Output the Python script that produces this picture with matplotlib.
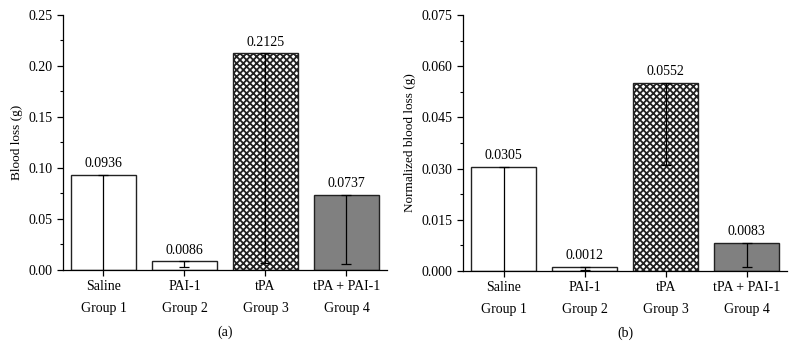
import matplotlib
matplotlib.use('Agg')
import matplotlib.pyplot as plt
from matplotlib.ticker import MultipleLocator, FormatStrFormatter

# data
groups = ["Saline\nGroup 1", "PAI-1\nGroup 2", "tPA\nGroup 3", "tPA + PAI-1\nGroup 4"]
blood_loss = [0.0936, 0.0086, 0.2125, 0.0737]
blood_loss_err = [0.10, 0.006, 0.2056, 0.068]
norm_loss = [0.0305, 0.0012, 0.0552, 0.0083]
norm_loss_err = [0.035, 0.0009, 0.0242, 0.0071]

plt.rcParams['font.family'] = ['Liberation Serif', 'DejaVu Serif']
plt.rcParams['hatch.linewidth'] = 1.3

fills = ['white', 'white', 'white', '#808080']
hatches = [None, '-', 'xxxxx', None]


def draw_panel(ax, values, errs, ymax, major, fmt, ylabel, tag):
    x = list(range(len(values)))
    bars = ax.bar(x, values, width=0.8, color=fills, edgecolor='#222222',
                  linewidth=1.0, zorder=2)
    for b, h in zip(bars, hatches):
        if h:
            b.set_hatch(h)
    # only the lower half of each error bar is visible
    ax.errorbar(x, values, yerr=[errs, [0] * len(errs)], fmt='none',
                ecolor='black', elinewidth=0.9, capsize=3.5, capthick=0.9,
                zorder=3)
    for xi, v in zip(x, values):
        ax.text(xi, v + ymax * 0.018, "%.4f" % v, ha='center', va='bottom',
                fontsize=10)
    ax.set_xlim(-0.5, 3.5)
    ax.set_ylim(0, ymax)
    ax.yaxis.set_major_locator(MultipleLocator(major))
    ax.yaxis.set_minor_locator(MultipleLocator(major / 2))
    ax.yaxis.set_major_formatter(FormatStrFormatter(fmt))
    ax.set_xticks(x)
    ax.set_xticklabels(groups, linespacing=1.9)
    ax.tick_params(axis='both', which='major', direction='out', length=4,
                   width=0.9, labelsize=10)
    ax.tick_params(axis='y', which='minor', direction='out', length=2,
                   width=0.8)
    ax.spines['top'].set_visible(False)
    ax.spines['right'].set_visible(False)
    ax.spines['left'].set_linewidth(0.9)
    ax.spines['bottom'].set_linewidth(0.9)
    ax.set_ylabel(ylabel, fontsize=9.5)
    ax.text(0.5, -0.245, tag, transform=ax.transAxes, ha='center',
            va='center', fontsize=10)


fig = plt.figure(figsize=(7.96, 3.47), dpi=100)
ax1 = fig.add_axes([0.0791, 0.2219, 0.407, 0.735])
ax2 = fig.add_axes([0.5817, 0.2190, 0.407, 0.738])

draw_panel(ax1, blood_loss, blood_loss_err, 0.25, 0.05, '%.2f',
           "Blood loss (g)", "(a)")
draw_panel(ax2, norm_loss, norm_loss_err, 0.075, 0.015, '%.3f',
           "Normalized blood loss (g)", "(b)")

plt.savefig('out.png', dpi=100)
